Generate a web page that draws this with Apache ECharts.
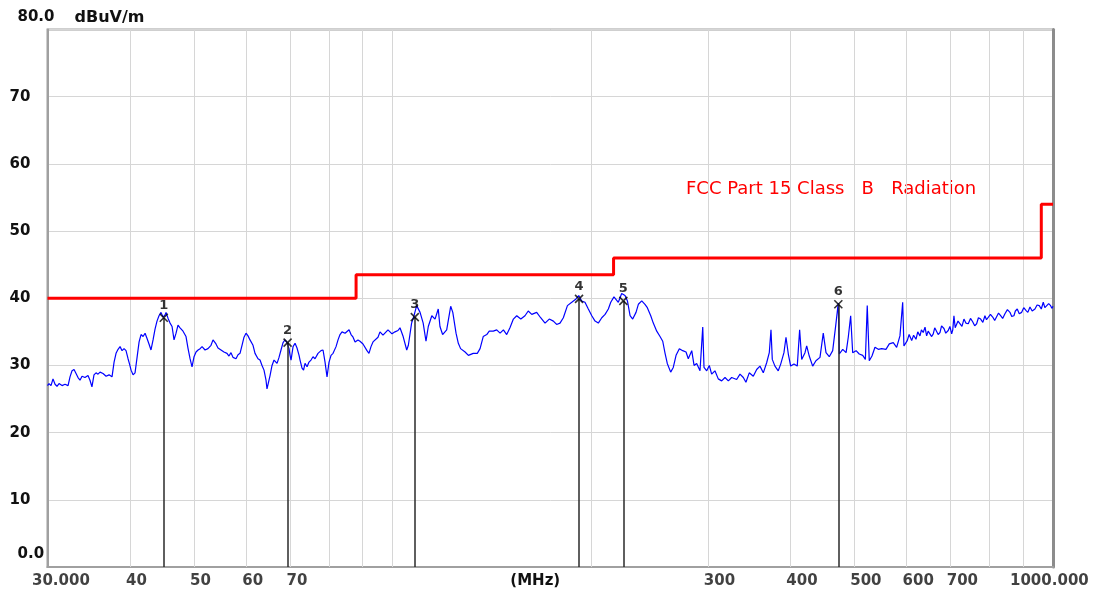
<!DOCTYPE html>
<html><head><meta charset="utf-8">
<script src="https://cdn.jsdelivr.net/npm/echarts@6/dist/echarts.min.js"></script>
<style>html,body{margin:0;padding:0;background:#fff}#c{width:1096px;height:596px}</style>
</head><body><div id="c"></div>
<script>
// Measured trace: [frequency MHz, level dBuV/m]
const trace = [
[30.00,27.0],[30.16,27.3],[30.37,27.0],[30.58,28.0],[30.80,27.2],[31.01,26.9],[31.23,27.3],[31.56,27.0],[31.89,27.2],[32.23,27.0],
[32.45,28.3],[32.68,29.2],[32.91,29.4],[33.14,28.8],[33.37,28.2],[33.60,27.8],[33.84,28.4],[34.19,28.2],[34.55,28.5],[34.79,27.8],
[35.03,26.8],[35.28,28.6],[35.53,28.9],[35.78,28.7],[36.03,29.0],[36.41,28.8],[36.80,28.4],[37.18,28.6],[37.57,28.3],[37.84,30.5],
[38.10,31.8],[38.37,32.4],[38.64,32.8],[38.91,32.2],[39.18,32.5],[39.45,32.2],[39.73,31.0],[39.94,30.2],[40.15,29.3],[40.43,28.6],
[40.71,28.9],[41.00,31.2],[41.29,33.5],[41.57,34.6],[41.87,34.3],[42.16,34.8],[42.45,34.0],[42.74,33.2],[43.04,32.3],[43.35,33.8],
[43.65,35.4],[43.95,36.6],[44.26,37.4],[44.57,37.9],[44.88,37.2],[45.20,37.5],[45.36,37.9],[45.68,37.0],[46.00,36.3],[46.32,35.8],
[46.64,33.8],[46.97,34.8],[47.29,36.0],[47.63,35.6],[48.13,35.1],[48.63,34.3],[48.98,32.5],[49.32,31.0],[49.66,29.8],[50.01,31.3],
[50.36,32.0],[50.72,32.3],[51.08,32.5],[51.43,32.8],[51.97,32.3],[52.50,32.5],[53.06,33.0],[53.43,33.8],[53.99,33.2],[54.37,32.6],
[54.94,32.3],[55.51,32.0],[56.10,31.8],[56.49,31.4],[56.89,31.9],[57.29,31.2],[57.89,31.0],[58.30,31.6],[58.71,31.8],[59.12,33.0],
[59.53,34.2],[59.95,34.8],[60.37,34.4],[60.79,33.8],[61.43,33.0],[61.86,31.8],[62.51,31.0],[62.95,30.8],[63.39,30.0],[63.83,29.3],
[64.28,27.8],[64.50,26.5],[64.73,26.3],[65.19,28.5],[65.64,30.0],[66.10,30.8],[66.80,30.3],[67.26,31.2],[67.73,32.3],[68.21,33.4],
[68.68,33.8],[69.17,33.4],[69.65,32.5],[69.90,31.5],[70.14,30.8],[70.64,32.8],[71.13,33.3],[71.62,32.6],[72.13,31.5],[72.38,30.8],
[72.88,29.6],[73.27,29.3],[73.65,30.3],[74.17,29.8],[74.68,30.5],[75.20,30.8],[75.73,31.3],[76.26,31.0],[77.06,31.8],[77.87,32.2],
[78.42,32.3],[78.97,30.5],[79.52,28.3],[80.08,30.5],[80.64,31.5],[81.21,31.8],[82.06,32.8],[82.63,33.8],[83.21,34.6],[83.79,35.0],
[84.68,34.8],[85.27,34.9],[85.87,35.3],[86.47,34.6],[87.08,34.2],[87.69,33.5],[88.58,33.8],[89.21,33.6],[90.15,33.2],[90.77,33.0],
[91.41,32.2],[92.05,31.8],[92.70,32.8],[93.35,33.5],[94.00,33.4],[94.99,34.2],[95.65,35.0],[96.66,34.5],[97.33,34.6],[98.36,35.3],
[99.05,35.0],[99.74,34.7],[100.79,35.0],[101.85,35.2],[102.56,35.6],[103.7,34.3],[105.0,32.3],[105.6,33.0],[106.8,36.3],[107.7,37.4],
[108.7,38.9],[110.0,37.9],[111.2,36.3],[112.3,33.6],[113.2,35.8],[114.6,37.4],[115.9,36.9],[117.2,38.4],[117.9,35.8],[119.0,34.6],
[120.7,35.3],[122.4,38.8],[123.3,37.9],[124.7,34.8],[125.7,33.3],[126.7,32.5],[128.7,32.0],[130.2,31.5],[132.4,31.8],[134.3,31.8],
[135.6,32.5],[137.1,34.3],[138.8,34.6],[140.0,35.1],[142.0,35.1],[143.7,35.3],[145.4,34.8],[147.1,35.3],[148.8,34.6],[150.5,35.6],
[152.3,36.9],[154.1,37.4],[156.3,36.9],[158.6,37.4],[160.4,38.1],[162.4,37.6],[165.2,37.9],[167.5,37.1],[170.1,36.3],[172.6,36.9],
[175.1,36.6],[177.1,36.1],[179.2,36.3],[181.3,37.1],[183.9,38.9],[186.7,39.4],[189.5,39.9],[191.3,40.4],[193.3,39.6],[195.5,39.4],
[197.8,38.4],[200.2,37.4],[202.5,36.6],[204.8,36.3],[207.3,37.1],[209.7,37.6],[212.1,38.4],[213.9,39.4],[216.3,40.2],[219.6,39.4],
[222.2,40.7],[224.8,40.4],[226.7,39.6],[228.8,37.4],[230.9,36.9],[233.6,37.9],[235.5,39.1],[238.3,39.6],[241.0,39.1],[243.0,38.6],
[245.9,37.4],[248.1,36.3],[251.1,35.1],[254.0,34.3],[256.4,33.6],[258.5,31.8],[260.5,30.3],[263.6,29.0],[266.0,29.7],[268.6,31.5],
[271.7,32.5],[274.9,32.2],[278.1,32.0],[280.3,31.0],[283.7,32.2],[286.0,30.0],[288.6,30.3],[292.0,29.2],[294.8,35.7],[296.1,29.7],
[298.9,29.2],[301.6,30.0],[304.1,28.7],[307.6,29.2],[311.2,28.0],[314.9,27.7],[318.6,28.2],[322.3,27.7],[326.1,28.2],[331.8,27.9],
[335.7,28.7],[339.6,28.2],[342.7,27.5],[346.7,28.9],[351.6,28.4],[355.8,29.4],[359.9,29.9],[364.1,28.9],[368.4,30.4],[371.8,31.9],
[374.0,35.3],[375.7,30.9],[379.2,29.9],[383.6,29.2],[386.9,30.2],[391.3,31.9],[394.1,34.2],[397.3,31.7],[400.6,29.9],[405.2,30.2],
[409.9,29.9],[413.3,35.3],[416.3,30.9],[421.1,31.9],[423.6,32.9],[427.4,31.4],[432.5,29.9],[437.5,30.7],[443.7,31.2],[448.8,34.8],
[453.1,31.9],[458.3,31.3],[463.8,32.2],[468.8,36.0],[472.9,39.3],[474.6,31.7],[480.3,32.4],[486.0,31.9],[489.7,34.2],[493.8,37.4],
[497.3,31.9],[503.2,32.2],[508.8,31.7],[515.0,31.5],[519.8,30.9],[523.2,38.9],[526.9,30.7],[531.9,31.4],[537.5,32.7],[543.7,32.4],
[550.2,32.5],[558.5,32.4],[565.0,33.2],[572.9,33.4],[579.7,32.7],[586.4,34.4],[592.0,39.4],[594.6,32.9],[601.5,33.7],[605.5,34.6],
[610.9,33.7],[615.0,34.5],[620.1,33.9],[624.0,35.0],[628.8,34.4],[632.0,35.3],[636.0,34.9],[640.0,35.7],[643.6,34.4],[647.0,35.1],
[651.1,35.2],[655.0,34.3],[658.6,34.7],[662.0,35.6],[666.5,35.4],[670.0,34.6],[674.2,34.9],[678.0,35.9],[683.7,35.5],[688.0,34.8],
[693.9,35.2],[698.0,35.8],[702.3,34.7],[705.0,35.3],[707.9,37.4],[711.0,35.6],[714.6,35.4],[718.0,36.6],[722.9,36.4],[728.0,35.8],
[733.0,36.9],[738.0,36.3],[744.1,36.2],[750.0,37.0],[755.7,36.5],[761.0,35.9],[766.2,36.2],[771.0,37.1],[777.0,36.9],[783.0,36.4],
[788.7,37.4],[793.0,36.8],[797.9,36.7],[804.0,37.6],[810.3,37.2],[816.0,36.7],[821.6,36.9],[827.0,37.8],[833.1,37.4],[839.0,37.0],
[845.7,37.7],[853.0,38.3],[860.6,37.9],[866.0,37.3],[872.6,37.4],[877.0,38.1],[882.8,38.4],[889.0,37.7],[896.5,37.9],[903.0,38.6],
[909.9,38.2],[916.0,37.9],[922.8,38.7],[930.0,38.1],[939.0,38.4],[946.0,39.0],[953.2,38.9],[960.0,38.4],[966.6,39.4],[972.0,38.6],
[978.3,38.7],[985.0,39.2],[991.8,38.9],[996.0,38.5],[1000,38.8]
];

// Limit line (FCC Part 15 Class B)
const limitFreq  = [30, 88, 88, 216, 216, 960, 960, 1000];
const limitLevel = [40, 40, 43.5, 43.5, 46, 46, 54, 54];
const limitName = 'FCC Part 15 Class   B   Radiation';

// Markers
const markerFreq   = [45.0, 69.3, 108.0, 191.5, 223.5, 473.0];
const markerLevel  = [37.1, 33.4, 37.2, 39.9, 39.6, 39.1];
const markerLabels = ['1', '2', '3', '4', '5', '6'];

// Axis ticks
const gridFreq   = [40, 50, 60, 70, 80, 90, 100, 200, 300, 400, 500, 600, 700, 800, 900];
const tickFreq   = [30, 40, 50, 60, 70, 300, 400, 500, 600, 700, 1000];
const tickLabels = ['30.000', '40', '50', '60', '70', '300', '400', '500', '600', '700', '1000.000'];
const yMin = 0, yMax = 80, yStep = 10;
const yUnit = 'dBuV/m';
const xUnit = '(MHz)';

const FONT = 'DejaVu Sans';
const TXT = '#111';
const chart = echarts.init(document.getElementById('c'), null, {renderer: 'canvas'});

const tickData = tickFreq.map((f, i) => {
  const item = {value: [f, yMin]};
  if (i === 0) item.label = {offset: [-15.5, 0]};
  if (i === tickFreq.length - 1) item.label = {offset: [-43, 0]};
  return item;
});

const option = {
  animation: false,
  backgroundColor: '#fff',
  grid: {left: 47.5, right: 43, top: 29.5, bottom: 29, show: true,
         borderColor: '#a0a0a0', borderWidth: 2, outerBoundsMode: 'none'},
  xAxis: {
    type: 'log', logBase: 10, min: 30, max: 1000,
    axisLine: {show: true, lineStyle: {color: '#a0a0a0', width: 2}},
    axisTick: {show: false}, axisLabel: {show: false},
    splitLine: {show: false}, minorTick: {show: false}, minorSplitLine: {show: false},
    name: xUnit, nameLocation: 'middle', nameGap: 7,
    nameTextStyle: {fontFamily: FONT, fontWeight: 'bold', fontSize: 15, color: TXT,
                    verticalAlign: 'top', padding: [0, 30, 0, 0]}
  },
  yAxis: [{
    type: 'value', min: yMin, max: yMax, interval: yStep,
    axisLine: {show: true, lineStyle: {color: '#a0a0a0', width: 2}},
    axisTick: {show: false},
    splitLine: {show: true, lineStyle: {color: '#d6d6d6', width: 1}},
    axisLabel: {
      show: true, align: 'left', margin: 38,
      fontFamily: FONT, fontWeight: 'bold', fontSize: 15, color: TXT,
      showMinLabel: true, showMaxLabel: true,
      formatter: v => v === yMin ? '{e|' + v.toFixed(1) + '}' : (v === yMax ? '{e|' + v.toFixed(1) + '}' : String(v)),
      rich: {e: {padding: [0, 0, 25, 8], fontFamily: FONT, fontWeight: 'bold', fontSize: 15, color: TXT}}
    },
    name: yUnit, nameLocation: 'end', nameGap: 12,
    nameTextStyle: {fontFamily: FONT, fontWeight: 'bold', fontSize: 16, color: TXT,
                    align: 'left', verticalAlign: 'middle', padding: [0, 0, 0, 27]}
  }, {
    type: 'value', position: 'right', min: yMin, max: yMax,
    axisLine: {show: true, lineStyle: {color: '#8c8c8c', width: 3}},
    axisTick: {show: false}, axisLabel: {show: false}, splitLine: {show: false}
  }],
  graphic: [{
    type: 'text', left: 686, top: 180, silent: true,
    style: {text: limitName, fill: '#ff0000', font: '18px "DejaVu Sans"'}
  }],
  series: [
    { // vertical grid lines
      type: 'line', data: [], silent: true,
      markLine: {silent: true, z: 1, symbol: ['none', 'none'], label: {show: false},
                 lineStyle: {color: '#d6d6d6', width: 1, type: 'solid'},
                 emphasis: {disabled: true},
                 data: gridFreq.map(f => ({xAxis: f}))}
    },
    { // limit
      type: 'line', name: limitName, z: 3, silent: true, symbol: 'none',
      data: limitFreq.map((f, i) => [f, limitLevel[i]]),
      lineStyle: {color: '#ff0000', width: 3}
    },
    { // trace
      type: 'line', z: 4, silent: true, symbol: 'none',
      data: trace, lineStyle: {color: '#0000ff', width: 1.2}
    },
    { // markers
      type: 'scatter', z: 6, silent: true,
      symbol: 'path://M0,0L10,10M10,0L0,10', symbolSize: 8,
      itemStyle: {color: 'rgba(0,0,0,0)', borderColor: '#000', borderWidth: 1.6},
      data: markerFreq.map((f, i) => [f, markerLevel[i]]),
      label: {show: true, position: 'top', distance: 1,
              formatter: p => markerLabels[p.dataIndex],
              fontFamily: FONT, fontWeight: 'bold', fontSize: 13, color: '#000'},
      markLine: {silent: true, z: 5, symbol: ['none', 'none'], label: {show: false},
                 lineStyle: {color: '#2a2a2a', width: 1.5, type: 'solid'},
                 emphasis: {disabled: true},
                 data: markerFreq.map((f, i) => [{coord: [f, yMin]}, {coord: [f, markerLevel[i]]}])}
    },
    { // x tick labels
      type: 'scatter', z: 7, silent: true, clip: false,
      symbolSize: 1, itemStyle: {color: 'rgba(0,0,0,0)'},
      data: tickData,
      label: {show: true, position: 'bottom', distance: 6, align: 'left', offset: [-4, 0],
              formatter: p => tickLabels[p.dataIndex],
              fontFamily: FONT, fontWeight: 'bold', fontSize: 15, color: TXT}
    }
  ]
};
chart.setOption(option);
</script>
</body></html>
